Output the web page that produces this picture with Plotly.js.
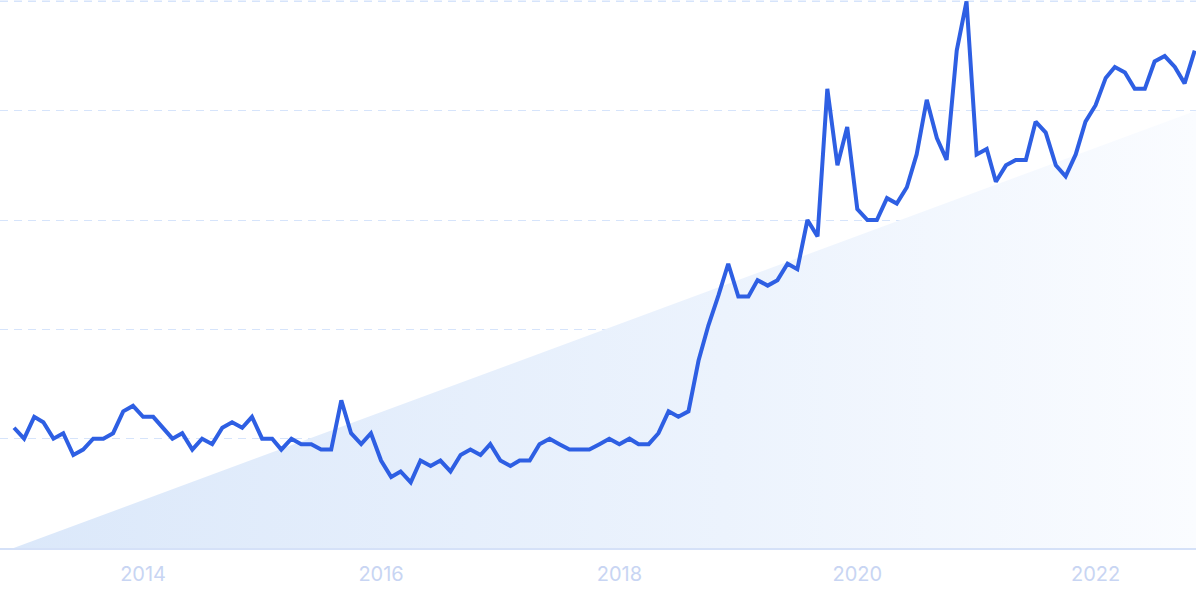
<!DOCTYPE html>
<html>
<head>
<meta charset="utf-8">
<script src="https://cdn.plot.ly/plotly-3.0.1.min.js"></script>
<style>html,body{margin:0;padding:0;background:#fff;}#chart{width:1200px;height:600px;}</style>
</head>
<body>
<div id="chart"></div>
<script>
// Monthly series, Dec 2012 .. Nov 2022 (relative interest, 0-100)
const startYear = 2012, startMonth = 12;
const values = [
  22, 20, 24, 23, 20, 21, 17, 18, 20, 20, 21, 25,
  26, 24, 24, 22, 20, 21, 18, 20, 19, 22, 23, 22,
  24, 20, 20, 18, 20, 19, 19, 18, 18, 27, 21, 19,
  21, 16, 13, 14, 12, 16, 15, 16, 14, 17, 18, 17,
  19, 16, 15, 16, 16, 19, 20, 19, 18, 18, 18, 19,
  20, 19, 20, 19, 19, 21, 25, 24, 25, 34.3, 40.7, 46.2,
  52, 46, 46, 49, 48, 49, 52, 51, 60, 57, 84, 70,
  77, 62, 60, 60, 64, 63, 66, 72, 82, 75, 71, 91,
  100, 72, 73, 67, 70, 71, 71, 78, 76, 70, 68, 72,
  78, 81, 86, 88, 87, 84, 84, 89, 90, 88, 85, 91
];
const tickYears = ['2014', '2016', '2018', '2020', '2022'];
const gridValues = [20, 40, 60, 80, 100];
const areaX = ['2012-11-30', '2022-11-05', '2022-11-05', '2012-11-30'];
const areaY = [0, 80, 0, 0];
const xRange = ['2012-10-19', '2022-11-05'];

const dates = values.map((_, i) => {
  const m0 = (startMonth - 1) + i;
  const y = startYear + Math.floor(m0 / 12);
  const m = (m0 % 12) + 1;
  return y + '-' + String(m).padStart(2, '0') + '-01';
});

const gridDash = '8px,6px';
const gridColor = '#d6e4fb';

const traces = [
  {
    type: 'scatter', mode: 'lines', x: areaX, y: areaY,
    fill: 'toself', line: {width: 0, color: 'rgba(0,0,0,0)'},
    fillgradient: {type: 'horizontal', colorscale: [[0, '#dbe8fa'], [0.6, '#ecf3fd'], [1, '#fafcff']]},
    hoverinfo: 'skip', showlegend: false
  },
  {
    type: 'scatter', mode: 'lines', x: dates, y: values,
    line: {color: '#2e5fe3', width: 4, shape: 'linear'},
    showlegend: false, cliponaxis: false
  }
];

const topGrid = gridValues[gridValues.length - 1];

const layout = {
  width: 1200, height: 600,
  margin: {l: 0, r: 4, t: 0, b: 52},
  paper_bgcolor: '#ffffff', plot_bgcolor: '#ffffff',
  showlegend: false,
  xaxis: {
    type: 'date', range: xRange,
    tickvals: tickYears.map(y => y + '-01-01'), ticktext: tickYears,
    showgrid: false, zeroline: false,
    showline: true, linecolor: '#d5e1f8', linewidth: 2,
    ticks: '', ticklabelstandoff: 7,
    tickfont: {family: 'Inter, Roboto, sans-serif', size: 20, color: '#c8d5f3'}
  },
  yaxis: {
    range: [0, 100.25], tickvals: gridValues,
    showticklabels: false, showgrid: true,
    gridcolor: gridColor, gridwidth: 1, griddash: gridDash,
    zeroline: false, showline: false, ticks: ''
  },
  shapes: [{
    type: 'line', xref: 'paper', yref: 'y', x0: 0, x1: 1, y0: topGrid, y1: topGrid,
    line: {color: gridColor, width: 1.5, dash: gridDash}, layer: 'below'
  }]
};

Plotly.newPlot('chart', traces, layout, {displayModeBar: false, staticPlot: true});
</script>
</body>
</html>
